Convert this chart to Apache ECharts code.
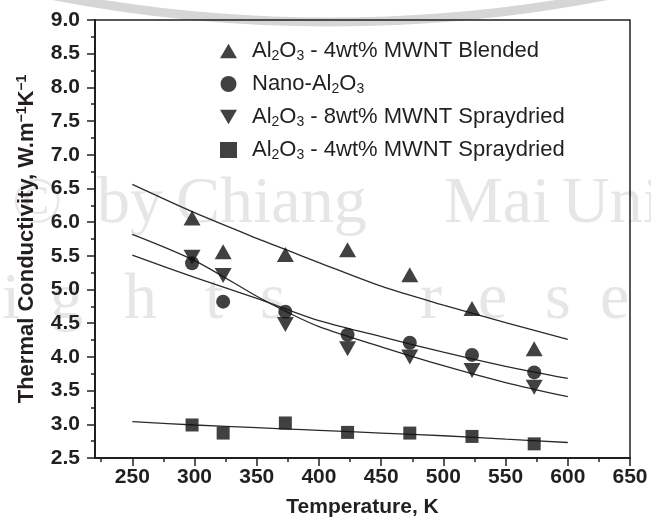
<!DOCTYPE html>
<html>
<head>
    <meta charset="utf-8">
    <title>Thermal Conductivity</title>
    <script src="https://cdn.jsdelivr.net/npm/echarts@6/dist/echarts.min.js"></script>
</head>
<body style="margin:0;background:#fff;">
<div id="main" style="width: 651px;height:524px;"></div>
<script type="text/javascript">
  // measured temperatures (K)
  var temps = [298, 323, 373, 423, 473, 523, 573];
  var blended4 = [6.06, 5.56, 5.52, 5.59, 5.22, 4.72, 4.12];
  var nanoAl = [5.39, 4.82, 4.67, 4.33, 4.21, 4.03, 3.77];
  var spray8 = [5.48, 5.21, 4.48, 4.12, 4.00, 3.80, 3.55];
  var spray4 = [2.99, 2.87, 3.02, 2.88, 2.87, 2.82, 2.71];

  // fitted curves
  var fitT = [250, 300, 350, 375, 400, 450, 500, 550, 600];
  var fitBlended4 = [6.56, 6.14, 5.76, 5.58, 5.40, 5.05, 4.77, 4.51, 4.26];
  var fitNano = [5.51, 5.18, 4.87, 4.70, 4.54, 4.30, 4.07, 3.86, 3.68];
  var fitSpray8 = [5.82, 5.43, 4.90, 4.66, 4.45, 4.15, 3.87, 3.62, 3.41];
  var fitSpray4 = [3.04, 2.99, 2.95, 2.93, 2.91, 2.87, 2.83, 2.78, 2.73];

  var xMajor = [250, 300, 350, 400, 450, 500, 550, 600, 650];
  var xMinor = [225, 275, 325, 375, 425, 475, 525, 575, 625];

  var names = ['blended4', 'nano', 'spray8', 'spray4'];
  var labels = {
    blended4: 'Al{sub|2}O{sub|3} - 4wt% MWNT Blended',
    nano: 'Nano-Al{sub|2}O{sub|3}',
    spray8: 'Al{sub|2}O{sub|3} - 8wt% MWNT Spraydried',
    spray4: 'Al{sub|2}O{sub|3} - 4wt% MWNT Spraydried'
  };

  var ink = '#231f20';
  var sans = 'Liberation Sans, Arial, sans-serif';
  var invTri = 'path://M0,0 L20,0 L10,17 Z';
  var upTri = 'path://M10,0 L20,17 L0,17 Z';

  function pairs(xs, ys) {
    return xs.map(function (x, i) { return [x, ys[i]]; });
  }

  function fitLine(xs, ys) {
    return {
      type: 'line', data: pairs(xs, ys), smooth: 0.3, showSymbol: false, silent: true,
      lineStyle: {color: '#2b2b2b', width: 1.3}, z: 1
    };
  }

  var myChart = echarts.init(document.getElementById('main'));

  // faint watermark behind the plot
  var wm = '#e6e6e6';
  var wmFont = '66px "Liberation Serif", serif';
  function wmText(t, x, y) {
    return {type: 'text', left: x, top: y, z: -10, silent: true,
      style: {text: t, font: wmFont, fill: wm}};
  }

  option = {
    backgroundColor: '#fff',
    animation: false,
    graphic: [
      {type: 'circle', shape: {cx: 330, cy: -1430, r: 1452}, z: -10, silent: true,
        style: {fill: 'none', stroke: '#d6d6d6', lineWidth: 9}},
      wmText('©', 12, 172),
      wmText('by', 97, 172),
      wmText('Chiang', 176, 172),
      wmText('Mai', 444, 172),
      wmText('University', 562, 172),
      wmText('i', 2, 268),
      wmText('g', 50, 268),
      wmText('h', 124, 268),
      wmText('t', 205, 268),
      wmText('s', 260, 268),
      wmText('r', 420, 268),
      wmText('e', 478, 268),
      wmText('s', 545, 268),
      wmText('e', 600, 268)
    ],
    grid: {
      left: 95, right: 21, top: 20, bottom: 66,
      show: true, borderColor: ink, borderWidth: 1.5
    },
    legend: {
      orient: 'vertical',
      left: 215, top: 35,
      itemWidth: 17, itemHeight: 16, itemGap: 10,
      data: names,
      formatter: function (n) { return labels[n]; },
      textStyle: {
        fontFamily: sans, fontSize: 22, color: ink,
        padding: [0, 0, 0, 10],
        rich: {sub: {fontSize: 14, fontFamily: sans, color: ink, verticalAlign: 'bottom', lineHeight: 24}}
      }
    },
    xAxis: [{
      type: 'value', min: 220, max: 650,
      name: 'Temperature, K', nameLocation: 'middle', nameGap: 39,
      nameTextStyle: {fontFamily: sans, fontWeight: 'bold', fontSize: 21, color: ink},
      axisLine: {lineStyle: {color: ink, width: 2}},
      axisTick: {customValues: xMajor, length: 8, lineStyle: {color: ink, width: 1.5}},
      axisLabel: {customValues: xMajor, margin: 9, fontFamily: sans, fontWeight: 'bold', fontSize: 21, color: ink},
      splitLine: {show: false}
    }, {
      type: 'value', min: 220, max: 650, position: 'bottom',
      axisLine: {show: false},
      axisTick: {customValues: xMinor, length: 4, lineStyle: {color: ink, width: 1.5}},
      axisLabel: {show: false},
      splitLine: {show: false}
    }],
    yAxis: {
      type: 'value', min: 2.5, max: 9, interval: 0.5,
      name: 'Thermal Conductivity, W.m{sup|−1}K{sup|−1}',
      nameLocation: 'middle', nameGap: 56,
      nameTextStyle: {
        fontFamily: sans, fontWeight: 'bold', fontSize: 22, color: ink,
        rich: {sup: {fontSize: 14, fontWeight: 'bold', fontFamily: sans, color: ink, verticalAlign: 'top', lineHeight: 24}}
      },
      axisLine: {show: true, lineStyle: {color: ink, width: 2}},
      axisTick: {show: true, length: 8, lineStyle: {color: ink, width: 1.5}},
      minorTick: {show: true, splitNumber: 2, length: 4, lineStyle: {color: ink, width: 1.5}},
      axisLabel: {
        margin: 15, fontFamily: sans, fontWeight: 'bold', fontSize: 21, color: ink,
        formatter: function (v) { return v.toFixed(1); }
      },
      splitLine: {show: false}
    },
    series: [
      {name: 'blended4', type: 'scatter', data: pairs(temps, blended4), symbol: upTri, symbolSize: [17, 15], itemStyle: {color: '#111'}, z: 3},
      {name: 'nano', type: 'scatter', data: pairs(temps, nanoAl), symbol: 'circle', symbolSize: 14, itemStyle: {color: '#111'}, z: 3},
      {name: 'spray8', type: 'scatter', data: pairs(temps, spray8), symbol: invTri, symbolSize: [17, 15], itemStyle: {color: '#111'}, z: 3},
      {name: 'spray4', type: 'scatter', data: pairs(temps, spray4), symbol: 'rect', symbolSize: 13, itemStyle: {color: '#111'}, z: 3},
      fitLine(fitT, fitBlended4),
      fitLine(fitT, fitNano),
      fitLine(fitT, fitSpray8),
      fitLine(fitT, fitSpray4)
    ]
  };
  myChart.setOption(option);
</script>
</body>
</html>
